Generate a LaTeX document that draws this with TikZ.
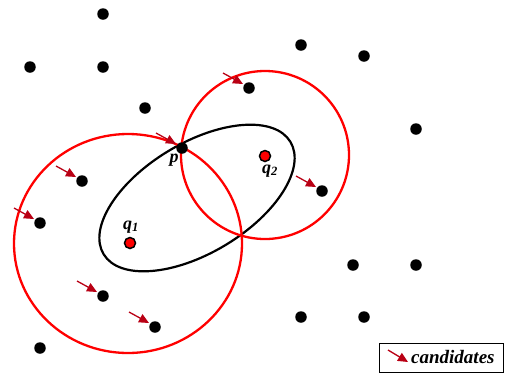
\documentclass[tikz,border=0pt]{standalone}
\usepackage{fontspec}
\setmainfont{Liberation Serif}
\usetikzlibrary{arrows.meta}
\definecolor{candred}{RGB}{185,0,20}
\begin{document}
\begin{tikzpicture}[x=1pt,y=-1pt,
 dot/.style={circle,fill=black,inner sep=0pt,minimum size=11.5pt},
 qdot/.style={circle,fill=red,draw=black,line width=1.5pt,inner sep=0pt,minimum size=11pt},
 rcirc/.style={draw=red,line width=2.3pt},
 ell/.style={draw=black,line width=2.2pt},
 cand/.style={draw=candred,line width=1.3pt,-{Triangle[length=10pt,width=9pt,fill=candred]}},
 lbl/.style={font=\fontsize{18}{18}\selectfont\bfseries\itshape,inner sep=0pt}]
\useasboundingbox (0,0) rectangle (506,376);
\coordinate (c1) at (128,243.5);
\coordinate (c2) at (265,155);
\coordinate (e) at (197,198);
% black ellipse
\draw[ell, rotate around={31:(e)}] (e) ellipse [x radius=109, y radius=55];
% red circles
\draw[rcirc] (c1) ellipse [x radius=114, y radius=109.5];
\draw[rcirc] (c2) circle [radius=84];
% dots
\node[dot] (d1) at (103,14) {};
\node[dot] (d2) at (30,67) {};
\node[dot] (d3) at (103,67) {};
\node[dot] (d4) at (145,108) {};
\node[dot] (d5) at (301,45) {};
\node[dot] (d6) at (364,56) {};
\node[dot] (d7) at (249,88) {};
\node[dot] (d8) at (416,129) {};
\node[dot] (p) at (182,148) {};
\node[dot] (d9) at (82,181) {};
\node[dot] (d10) at (40,223) {};
\node[dot] (d11) at (322,191) {};
\node[dot] (d12) at (353,265) {};
\node[dot] (d13) at (416,265) {};
\node[dot] (d14) at (103,296) {};
\node[dot] (d15) at (155,327) {};
\node[dot] (d16) at (301,317) {};
\node[dot] (d17) at (364,317) {};
\node[dot] (d18) at (40,348) {};
\node[qdot] (q1) at (130,243) {};
\node[qdot] (q2) at (265,156) {};
% labels
\node[lbl] (lp) at (174,160) {p};
\node[lbl] (lq1) at (131,227) {q\textsubscript{1}};
\node[lbl] (lq2) at (270,171) {q\textsubscript{2}};
% candidate arrows
\foreach \n in {d7,p,d9,d10,d11,d14,d15}{
  \draw[cand] ([shift={(-26,-15)}]\n.center) -- ([shift={(-6,-4)}]\n.center);
}
% legend
\node[draw=black,line width=0.8pt,minimum width=124pt,minimum height=29pt,inner sep=0pt] (leg) at (441,357.5) {};
\coordinate (la) at (388,350);
\coordinate (lb) at (408,362);
\draw[cand] (la) -- (lb);
\node[lbl,font=\fontsize{19}{19}\selectfont\bfseries\itshape,anchor=west] (lt) at (411,357) {candidates};
\end{tikzpicture}
\end{document}
